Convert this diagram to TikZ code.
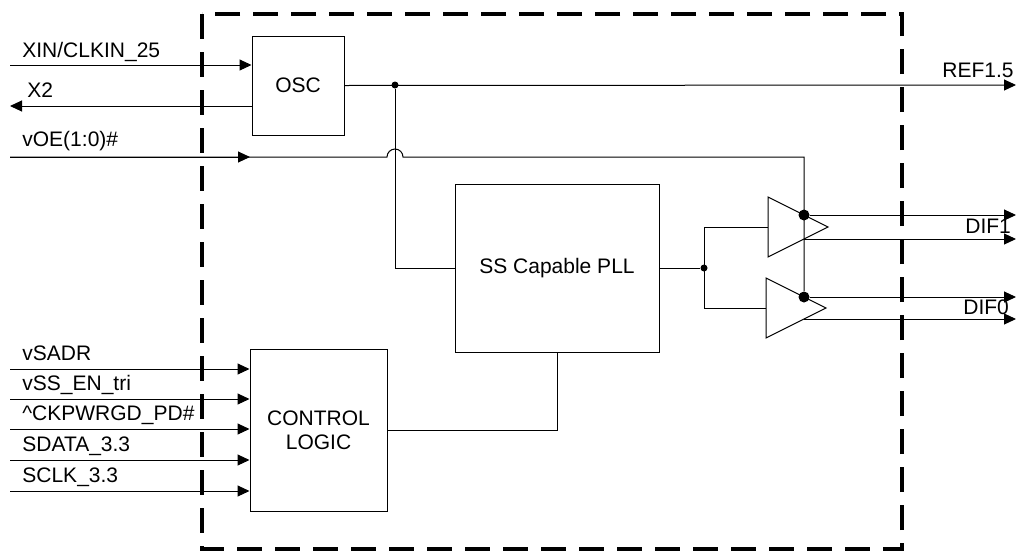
\documentclass[tikz,border=0pt]{standalone}
\usepackage{fontspec}
\setmainfont{Liberation Sans}
\usetikzlibrary{positioning, arrows.meta}
\tikzset{
wire/.style={line width=0.5pt}, % thin signal lines
sig/.style={wire, -{Triangle[length=6pt,width=5.5pt]}}, % line with a filled arrow tip
chip/.style={line width=2pt, dash pattern=on 12.5pt off 6.5pt}, % the dashed device outline
blk/.style={draw, line width=0.5pt, inner sep=0pt, align=center},
jn/.style={circle, fill, inner sep=0pt, minimum size=3.5pt}, % small junction dot
bigjn/.style={circle, fill, inner sep=0pt, minimum size=5.5pt}, % large junction dot
lbl/.style={anchor=base west, inner sep=0pt},
}

\begin{document}
\begin{tikzpicture}[x=0.5pt, y=-0.5pt, font=\fontsize{10.5}{12}\selectfont]
       \useasboundingbox (0,0) rectangle (1016,552);

       % device outline
       \draw[chip] (202,14) rectangle (902,549);

       \node[blk, minimum width=46pt, minimum height=49.5pt] (OSC) at (298,85.5) {OSC};
       \node[blk, minimum width=102pt, minimum height=84pt] (PLL) at (557,268) {SS Capable PLL};
       \node[blk, minimum width=68.5pt, minimum height=81pt] (CTRL) at (318.5,430) {CONTROL\\LOGIC};

       % output buffers
       \coordinate (B1) at (768,227);
       \coordinate (B0) at (766,308);
       \draw[wire] (B1) ++(0,-30) -- ++(60,30) -- ++(-60,30) -- cycle;
       \draw[wire] (B0) ++(0,-30) -- ++(60,30) -- ++(-60,30) -- cycle;

       \coordinate (XIN) at (10,65);
       \coordinate (X2) at (10,106);
       \coordinate (VOE) at (10,157);
       \coordinate (REF) at (1016,85);
       \node[jn] (J1) at (395,85) {};
       \node[jn] (J2) at (704,268) {};
       \node[bigjn] (D1) at (804,215) {};
       \node[bigjn] (D0) at (804,297) {};
       \coordinate (HOP) at (J1 |- VOE);

       \draw[sig] (XIN) -- (XIN -| OSC.west);
       \draw[sig] (X2 -| OSC.west) -- (X2);
       \draw[sig] (OSC.east) -- (REF);
       \draw[wire] (J1) |- (PLL.west);
       \draw[sig] (VOE) -- ++(240,0);
       \draw[wire] (VOE) -- ([xshift=-4pt]HOP) arc[start angle=180, end angle=0, radius=4pt] -| (D0);

       \draw[wire] (PLL.east) -- (J2);
       \draw[wire] (J2 |- B1) -- (J2 |- B0);
       \draw[wire] (J2 |- B1) -- (B1);
       \draw[wire] (J2 |- B0) -- (B0);
       \draw[sig] (D1) -- (1016,215);
       \draw[sig] (804,239) -- (1016,239);
       \draw[sig] (D0) -- (1016,297);
       \draw[sig] (804,319) -- (1016,319);
       \draw[wire] (CTRL.east) -| (PLL.south);

       \node[lbl] at (22,57) {XIN/CLKIN\_25};
       \node[lbl] at (27,97) {X2};
       \node[lbl] at (22,146) {vOE(1:0)\#};
       \node[lbl] at (942,77) {REF1.5};
       \node[lbl] at (965,233) {DIF1};
       \node[lbl] at (963,314) {DIF0};

       \foreach \y/\t [count=\i] in {369/vSADR, 399/vSS\_EN\_tri, 429/{\textasciicircum CKPWRGD\_PD\#}, 460/SDATA\_3.3, 491/SCLK\_3.3} {
         \coordinate (IN\i) at (10,\y);
         \draw[sig] (IN\i) -- (IN\i -| CTRL.west);
         \node[lbl] at (22,{\y-9}) {\t};
       }

  \end{tikzpicture}
\end{document}
